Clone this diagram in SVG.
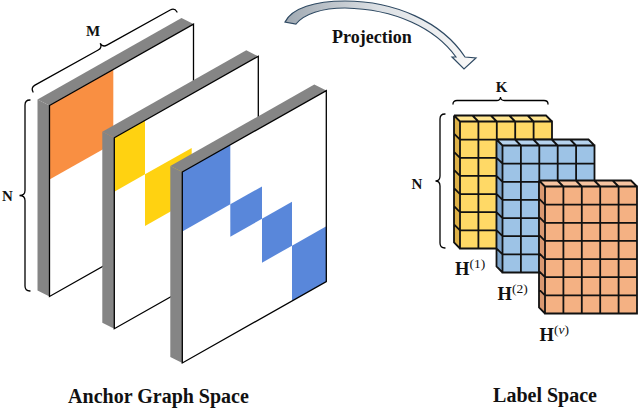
<svg xmlns="http://www.w3.org/2000/svg" xmlns:xlink="http://www.w3.org/1999/xlink" width="640" height="409" viewBox="0 0 640 409">
<style>
.t{font-family:"Liberation Serif","Times New Roman",serif;font-weight:bold;fill:#111}
.face{fill:#fff}
.edge{fill:none;stroke:#000;stroke-width:1.3;stroke-linejoin:miter}
.gray{fill:#858585}
.brace{fill:none;stroke:#000;stroke-width:1.3;stroke-linecap:round}
.gl{fill:none;stroke:#111;stroke-width:1.8;stroke-linejoin:miter}
.or{fill:#F98F42}.ye{fill:#FFD211}.bl{fill:#5987DA}
.yf{fill:#FFD966}.yt{fill:#FFE590}.ys{fill:#DDB148}
.bf{fill:#9DC3E6}.bt{fill:#B6D3EE}.bs{fill:#7DA4CB}
.of{fill:#F4B183}.ot{fill:#F7C5A2}.os{fill:#D99870}
.sup{font-weight:normal;font-size:13.5px}
</style>
<defs>
<linearGradient id="ag" gradientUnits="userSpaceOnUse" x1="285" y1="0" x2="470" y2="0">
<stop offset="0" stop-color="#A0A9B2"/>
<stop offset="0.5" stop-color="#DCE0E4"/>
<stop offset="1" stop-color="#F7F7F7"/>
</linearGradient>
<path id="gridlines" class="gl" d="M0,0H92V127H0Z M18.4,0V127M36.8,0V127M55.2,0V127M73.6,0V127 M0,18.14H92M0,36.29H92M0,54.43H92M0,72.57H92M0,90.71H92M0,108.86H92 M-6,-6H86L92,0 M-6,-6L0,0 M18.4,0l-6,-6M36.8,0l-6,-6M55.2,0l-6,-6M73.6,0l-6,-6 M-6,-6V121L0,127 M0,18.14l-6,-6M0,36.29l-6,-6M0,54.43l-6,-6M0,72.57l-6,-6M0,90.71l-6,-6M0,108.86l-6,-6"/>
</defs>

<!-- Anchor graph panels -->
<g id="panel1" transform="translate(49.5,105.5)">
<polygon class="gray" points="-12,-6 132,-87.4 144,-81.4 0,0"/>
<polygon class="gray" points="-12,-6 0,0 0,191 -12,185"/>
<polygon class="face" points="0,0 144,-81.4 144,109.6 0,191"/>
<g transform="matrix(1,-0.5653,0,1,0,0)">
<rect class="or" x="0" y="0" width="63.8" height="74"/>
</g>
<polygon class="edge" points="0,0 144,-81.4 144,109.6 0,191"/>
</g>

<g id="panel2" transform="translate(114.3,137.7)">
<polygon class="gray" points="-12,-6 132,-87.4 144,-81.4 0,0"/>
<polygon class="gray" points="-12,-6 0,0 0,191 -12,185"/>
<polygon class="face" points="0,0 144,-81.4 144,109.6 0,191"/>
<g transform="matrix(1,-0.5653,0,1,0,0)">
<rect class="ye" x="0" y="0" width="30.7" height="54"/>
<rect class="ye" x="30.7" y="54" width="46.7" height="51.6"/>
</g>
<polygon class="edge" points="0,0 144,-81.4 144,109.6 0,191"/>
</g>

<g id="panel3" transform="translate(182.3,172)">
<polygon class="gray" points="-12,-6 132,-87.4 144,-81.4 0,0"/>
<polygon class="gray" points="-12,-6 0,0 0,191 -12,185"/>
<polygon class="face" points="0,0 144,-81.4 144,109.6 0,191"/>
<g transform="matrix(1,-0.5653,0,1,0,0)">
<rect class="bl" x="0" y="0" width="48" height="59.5"/>
<rect class="bl" x="48" y="59.5" width="31.7" height="32.3"/>
<rect class="bl" x="79.7" y="91.8" width="30" height="43.9"/>
<rect class="bl" x="109.7" y="135.7" width="34.3" height="55.3"/>
</g>
<polygon class="edge" points="0,0 144,-81.4 144,109.6 0,191"/>
</g>

<!-- braces -->
<g id="braceM" transform="translate(30.6,87.6) rotate(-29.05)">
<path class="brace" d="M0,5 Q0,0 5,0 L77.35,0 Q82.35,0 82.35,-5 Q82.35,0 87.35,0 L159.7,0 Q164.7,0 164.7,5"/>
</g>
<g id="braceNL" transform="translate(25,291) rotate(-90)">
<path class="brace" d="M0,5 Q0,0 5,0 L90.5,0 Q95.5,0 95.5,-5.5 Q95.5,0 100.5,0 L186,0 Q191,0 191,5"/>
</g>
<g id="braceK" transform="translate(453,100.5)">
<path class="brace" d="M0,3.5 Q0,0 4,0 L43.5,0 Q47.5,0 47.5,-3.5 Q47.5,0 51.5,0 L91,0 Q95,0 95,3.5"/>
</g>
<g id="braceNR" transform="translate(440,248) rotate(-90)">
<path class="brace" d="M0,5 Q0,0 5,0 L62,0 Q67,0 67,-4.5 Q67,0 72,0 L129,0 Q134,0 134,5"/>
</g>

<!-- label space cubes -->
<g id="H1" transform="translate(460,121.5)">
<rect class="yf" x="0" y="0" width="92" height="127"/>
<polygon class="yt" points="-6,-6 86,-6 92,0 0,0"/>
<polygon class="ys" points="-6,-6 0,0 0,127 -6,121"/>
<use xlink:href="#gridlines" href="#gridlines"/>
</g>
<g id="H2" transform="translate(502.5,145.5)">
<rect class="bf" x="0" y="0" width="92" height="127"/>
<polygon class="bt" points="-6,-6 86,-6 92,0 0,0"/>
<polygon class="bs" points="-6,-6 0,0 0,127 -6,121"/>
<use xlink:href="#gridlines" href="#gridlines"/>
</g>
<g id="Hv" transform="translate(545,186.5)">
<rect class="of" x="0" y="0" width="92" height="127"/>
<polygon class="ot" points="-6,-6 86,-6 92,0 0,0"/>
<polygon class="os" points="-6,-6 0,0 0,127 -6,121"/>
<use xlink:href="#gridlines" href="#gridlines"/>
</g>

<!-- connectors -->
<g id="connectors">
<path d="M285,22 C292,8 315,1 345,1 C395,1 442,22 465,57 L476,58 L464,69 L452,57 L456,57 C435,28 395,9 345,8 C322,8 304,14 296,24 Z" fill="url(#ag)" stroke="#2F4A63" stroke-width="1.2" stroke-linejoin="miter"/>
</g>

<!-- texts -->
<g id="labels">
<text class="t" x="332" y="43" font-size="18">Projection</text>
<text class="t" x="93" y="35.5" font-size="15" text-anchor="middle">M</text>
<text class="t" x="2" y="200.5" font-size="15">N</text>
<text class="t" x="411.5" y="188.5" font-size="15">N</text>
<text class="t" x="501.5" y="92" font-size="15" text-anchor="middle">K</text>
<text class="t" x="455" y="275" font-size="18.5">H<tspan class="sup" dy="-7">(1)</tspan></text>
<text class="t" x="497.5" y="300" font-size="18.5">H<tspan class="sup" dy="-7">(2)</tspan></text>
<text class="t" x="539.5" y="340.5" font-size="18.5">H<tspan class="sup" dy="-7">(<tspan font-style="italic">v</tspan>)</tspan></text>
<text class="t" x="158.5" y="402.5" font-size="20" text-anchor="middle">Anchor Graph Space</text>
<text class="t" x="545" y="402" font-size="20" text-anchor="middle">Label Space</text>
</g>
</svg>
